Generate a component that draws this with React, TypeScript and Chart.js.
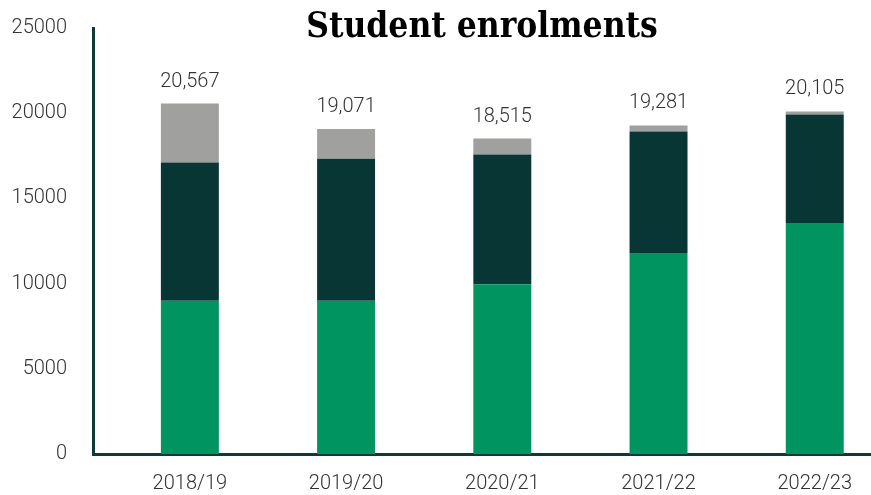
import React, { useEffect, useRef } from "react";
import { Chart, registerables } from "chart.js";

Chart.register(...registerables);

const categories = ["2018/19", "2019/20", "2020/21", "2021/22", "2022/23"];
const greenValues = [9000, 9000, 9960, 11790, 13560];
const darkValues = [8100, 8330, 7610, 7140, 6370];
const greyValues = [3467, 1741, 945, 351, 175];
const yTicks = [0, 5000, 10000, 15000, 20000, 25000];

const GREEN = "#009460";
const DARK = "#083634";
const GREY = "#a0a09e";
const AXIS = "#0d3b36";
const TEXT = "#333333";
const FONT = "Roboto, 'Noto Sans', sans-serif";

const totalsPlugin = {
  id: "totals",
  afterDatasetsDraw(chart: any) {
    const ctx = chart.ctx;
    const n = chart.data.datasets.length;
    const topMeta = chart.getDatasetMeta(n - 1);
    ctx.save();
    ctx.font = `300 20px ${FONT}`;
    ctx.fillStyle = TEXT;
    ctx.textAlign = "center";
    ctx.textBaseline = "middle";
    categories.forEach((_, i) => {
      let total = 0;
      chart.data.datasets.forEach((ds: any) => {
        total += ds.data[i].y;
      });
      const el = topMeta.data[i];
      ctx.fillText(total.toLocaleString("en-US"), el.x, el.y - 22);
    });
    ctx.restore();
  },
};

export default function App() {
  const ref = useRef<HTMLCanvasElement | null>(null);

  useEffect(() => {
    document.body.style.margin = "0";
    if (!ref.current) return;
    const toPts = (arr: number[]) => arr.map((v, i) => ({ x: i, y: v }));
    const chart = new Chart(ref.current, {
      type: "bar",
      data: {
        datasets: [
          { label: "Group A", data: toPts(greenValues), backgroundColor: GREEN },
          { label: "Group B", data: toPts(darkValues), backgroundColor: DARK },
          { label: "Group C", data: toPts(greyValues), backgroundColor: GREY },
        ],
      } as any,
      options: {
        animation: false,
        responsive: true,
        maintainAspectRatio: false,
        layout: { padding: { left: 0, right: 0, top: 28, bottom: 0 } },
        datasets: {
          bar: { categoryPercentage: 1, barPercentage: 0.371 },
        } as any,
        plugins: {
          legend: { display: false },
          tooltip: { enabled: false },
          title: { display: false },
        },
        scales: {
          x: {
            type: "linear",
            stacked: true,
            offset: false,
            min: -0.62,
            max: 4.36,
            grid: { display: false, drawTicks: false, offset: false },
            border: { display: true, color: AXIS, width: 3 },
            afterFit: (s: any) => {
              s.height = 41;
              s.paddingLeft = 0;
              s.paddingRight = 0;
            },
            ticks: {
              stepSize: 1,
              includeBounds: false,
              autoSkip: false,
              maxRotation: 0,
              padding: 18,
              color: TEXT,
              font: { family: FONT, size: 20, weight: "300" as any },
              callback: (v: any) =>
                Number.isInteger(v) && v >= 0 && v < categories.length ? categories[v] : "",
            },
          } as any,
          y: {
            stacked: true,
            min: 0,
            max: 25000,
            grid: { display: false, drawTicks: false },
            border: { display: true, color: AXIS, width: 3 },
            afterFit: (s: any) => {
              s.width = 93;
              s.paddingTop = 0;
              s.paddingBottom = 0;
            },
            afterBuildTicks: (s: any) => {
              s.ticks = yTicks.map((v) => ({ value: v }));
            },
            ticks: {
              padding: 26,
              color: TEXT,
              font: { family: FONT, size: 20, weight: "300" as any },
              callback: (v: any) => String(v),
            },
          },
        },
      },
      plugins: [totalsPlugin],
    });
    return () => chart.destroy();
  }, []);

  return (
    <div style={{ position: "relative", width: 871, height: 495 }}>
      <canvas ref={ref} />
      <div
        style={{
          position: "absolute",
          left: 93,
          right: 0,
          top: 4,
          textAlign: "center",
          fontFamily: "'DejaVu Serif Condensed', 'DejaVu Serif', serif",
          fontStretch: "condensed",
          fontWeight: "bold",
          fontSize: 35,
          lineHeight: "42px",
          color: "#000000",
          pointerEvents: "none",
        }}
      >
        Student enrolments
      </div>
    </div>
  );
}
